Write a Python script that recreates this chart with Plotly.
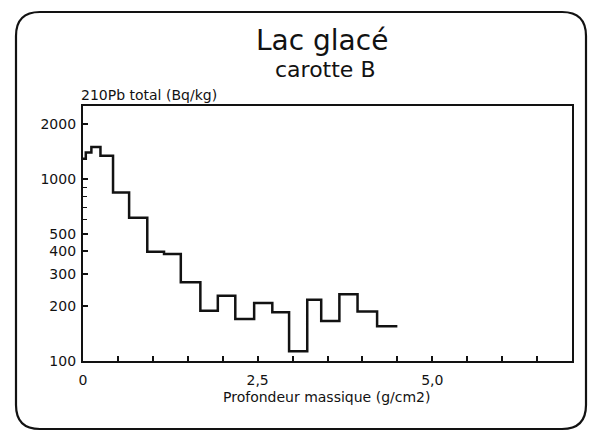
import plotly.graph_objects as go

# Core B, Lac glacé: total 210Pb activity by mass depth (stepped profile)
depth_edges = [0, 0.04, 0.12, 0.25, 0.43, 0.66, 0.92, 1.16, 1.40, 1.68, 1.93,
               2.18, 2.45, 2.71, 2.95, 3.21, 3.41, 3.67, 3.93, 4.21, 4.50]
pb210_total = [1290, 1400, 1500, 1340, 844, 613, 398, 387, 271, 189,
               228, 170, 208, 185, 113, 217, 166, 233, 187, 155]

y_tick_vals = [100, 200, 300, 400, 500, 1000, 2000]
y_tick_text = ["100", "200", "300", "400", "500", "1000", "2000"]
y_minor_vals = [600, 700, 800, 900]
x_tick_vals = [0, 2.5, 5.0]
x_tick_text = ["0", "2,5", "5,0"]

W, H = 599, 433
PL, PR, PT, PB = 83, 572, 106, 361  # plot area in pixels
INK = "#121212"
FONT = "DejaVu Sans, Verdana, sans-serif"


def px(x):
    return (x - PL) / (PR - PL)


def py(y):
    return (PB - y) / (PB - PT)


# step line: repeat the last level so the final step is drawn to its end
xs = depth_edges
ys = pb210_total + [pb210_total[-1]]

fig = go.Figure()
fig.add_trace(go.Scatter(
    x=xs, y=ys, mode="lines", line=dict(shape="hv", color=INK, width=2.5),
    showlegend=False, hoverinfo="skip"))

fig.update_layout(
    width=W, height=H,
    margin=dict(l=PL, r=W - PR, t=PT, b=H - PB),
    paper_bgcolor="white", plot_bgcolor="white",
    font=dict(family=FONT, color=INK, size=14),
)

fig.update_xaxes(
    range=[0, 7], showgrid=False, zeroline=False,
    showline=True, linecolor=INK, linewidth=2.2, mirror=True,
    tickmode="array", tickvals=x_tick_vals, ticktext=x_tick_text,
    ticks="inside", ticklen=5, tickwidth=1.5, tickcolor=INK,
    minor=dict(ticks="inside", dtick=0.5, tick0=0, ticklen=5, tickwidth=1.5, tickcolor=INK),
    tickfont=dict(size=14, family=FONT, color=INK),
    ticklabelstandoff=5,
)
fig.update_yaxes(
    type="log", range=[2, 3.401], showgrid=False, zeroline=False,
    showline=True, linecolor=INK, linewidth=2.2, mirror=True,
    tickmode="array", tickvals=y_tick_vals, ticktext=y_tick_text,
    ticks="inside", ticklen=5, tickwidth=1.5, tickcolor=INK,
    minor=dict(ticks="inside", tickvals=y_minor_vals, ticklen=4, tickwidth=1.2, tickcolor=INK),
    tickfont=dict(size=14, family=FONT, color=INK),
    ticklabelstandoff=2,
)

# rounded outer frame
L, R, T, B, r = 16, 586, 12, 429, 24
path = (
    f"M {px(L + r)},{py(T)} L {px(R - r)},{py(T)} Q {px(R)},{py(T)} {px(R)},{py(T + r)} "
    f"L {px(R)},{py(B - r)} Q {px(R)},{py(B)} {px(R - r)},{py(B)} "
    f"L {px(L + r)},{py(B)} Q {px(L)},{py(B)} {px(L)},{py(B - r)} "
    f"L {px(L)},{py(T + r)} Q {px(L)},{py(T)} {px(L + r)},{py(T)} Z"
)
fig.add_shape(type="path", path=path, xref="paper", yref="paper",
              line=dict(color=INK, width=2.2), layer="below")

fig.add_annotation(text="Lac glacé", x=px(322), y=py(40), xref="paper", yref="paper",
                   showarrow=False, font=dict(size=28, family=FONT, color=INK),
                   xanchor="center", yanchor="middle")
fig.add_annotation(text="carotte B", x=px(325), y=py(69), xref="paper", yref="paper",
                   showarrow=False, font=dict(size=22, family=FONT, color=INK),
                   xanchor="center", yanchor="middle")
fig.add_annotation(text="210Pb total (Bq/kg)", x=px(79), y=py(95), xref="paper", yref="paper",
                   showarrow=False, font=dict(size=14, family=FONT, color=INK),
                   xanchor="left", yanchor="middle")
fig.add_annotation(text="Profondeur massique (g/cm2)", x=px(326), y=py(397), xref="paper", yref="paper",
                   showarrow=False, font=dict(size=14, family=FONT, color=INK),
                   xanchor="center", yanchor="middle")

fig.write_html("out.html")
